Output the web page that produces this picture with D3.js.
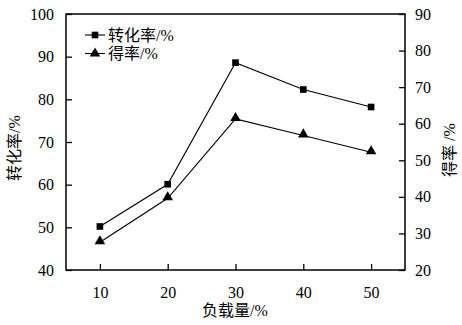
<!DOCTYPE html>
<html><head><meta charset="utf-8">
<script src="https://cdn.jsdelivr.net/npm/d3@7"></script>
<style>body{margin:0;background:#fff}svg{display:block}text{font-family:"Liberation Serif","Noto Sans CJK SC",serif;fill:#000}</style>
</head><body>
<script>
const loads = [10, 20, 30, 40, 50];
const conversion = [50.2, 60.1, 88.6, 82.3, 78.2];
const yieldVals = [27.6, 39.6, 61.3, 56.8, 52.2];
const xTicks = [10, 20, 30, 40, 50];
const leftTicks = [40, 50, 60, 70, 80, 90, 100];
const rightTicks = [20, 30, 40, 50, 60, 70, 80, 90];
const seriesNames = ["转化率/%", "得率/%"];
const xTitle = "负载量/%", leftTitle = "转化率/%", rightTitle = "得率 /%";

const W = 462, H = 325;
const m = {l: 66, r: 405, t: 14, b: 270};
const svg = d3.select("body").append("svg").attr("width", W).attr("height", H);
const x = d3.scaleLinear().domain([5, 55]).range([m.l, m.r]);
const yL = d3.scaleLinear().domain([40, 100]).range([m.b, m.t]);
const yR = d3.scaleLinear().domain([20, 90]).range([m.b, m.t]);

svg.append("rect").attr("x", m.l).attr("y", m.t).attr("width", m.r - m.l).attr("height", m.b - m.t)
  .attr("fill", "none").attr("stroke", "#000").attr("stroke-width", 1.5);

function styleAxis(g, size) {
  g.select(".domain").remove();
  g.selectAll(".tick line").attr("stroke", "#000").attr("stroke-width", 1.3);
  g.selectAll(".tick text").attr("font-size", size);
}
svg.append("g").attr("transform", `translate(0,${m.b})`)
  .call(d3.axisBottom(x).tickValues(xTicks).tickSizeInner(-6).tickSizeOuter(0).tickPadding(17))
  .call(g => styleAxis(g, 16));
svg.append("g").attr("transform", `translate(${m.l},0)`)
  .call(d3.axisLeft(yL).tickValues(leftTicks).tickSizeInner(-6).tickSizeOuter(0).tickPadding(12))
  .call(g => styleAxis(g, 16));
svg.append("g").attr("transform", `translate(${m.r},0)`)
  .call(d3.axisRight(yR).tickValues(rightTicks).tickSizeInner(-6).tickSizeOuter(0).tickPadding(10))
  .call(g => styleAxis(g, 16));

const line = d3.line();
svg.append("path").attr("d", line(loads.map((d, i) => [x(d), yL(conversion[i])])))
  .attr("fill", "none").attr("stroke", "#000").attr("stroke-width", 1.1);
svg.append("path").attr("d", line(loads.map((d, i) => [x(d), yR(yieldVals[i])])))
  .attr("fill", "none").attr("stroke", "#000").attr("stroke-width", 1.1);

const sq = d3.symbol().type(d3.symbolSquare).size(44);
const tri = d3.symbol().type(d3.symbolTriangle).size(48);
svg.selectAll(".sq").data(loads).join("path").attr("d", sq)
  .attr("transform", (d, i) => `translate(${x(d)},${yL(conversion[i])})`).attr("fill", "#000");
svg.selectAll(".tr").data(loads).join("path").attr("d", tri)
  .attr("transform", (d, i) => `translate(${x(d)},${yR(yieldVals[i]) - 1})`).attr("fill", "#000");

// legend
const lg = [{sym: sq, y: 35}, {sym: tri, y: 53.5}];
lg.forEach((l, i) => {
  svg.append("line").attr("x1", 85).attr("x2", 105).attr("y1", l.y).attr("y2", l.y).attr("stroke", "#000").attr("stroke-width", 1.1);
  svg.append("path").attr("d", l.sym).attr("transform", `translate(95,${l.y})`).attr("fill", "#000");
  svg.append("text").attr("x", 108).attr("y", l.y).attr("dy", "0.36em").attr("font-size", 16).text(seriesNames[i]);
});

svg.append("text").attr("x", 235).attr("y", 316).attr("text-anchor", "middle").attr("font-size", 16).text(xTitle);
svg.append("text").attr("transform", "translate(20,148) rotate(-90)").attr("text-anchor", "middle").attr("font-size", 16).text(leftTitle);
svg.append("text").attr("transform", "translate(455,150) rotate(-90)").attr("text-anchor", "middle").attr("font-size", 16).text(rightTitle);
</script>
</body></html>
